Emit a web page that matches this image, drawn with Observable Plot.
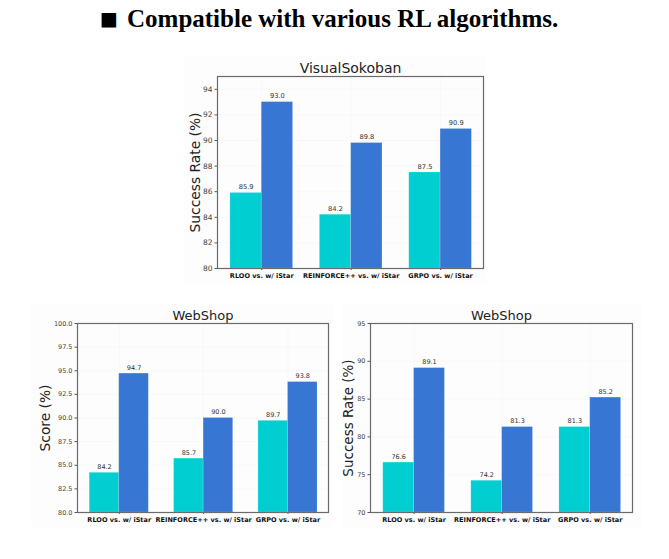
<!DOCTYPE html>
<html>
<head>
<meta charset="utf-8">
<script src="https://cdn.jsdelivr.net/npm/d3@7"></script>
<script src="https://cdn.jsdelivr.net/npm/@observablehq/plot@0.6"></script>
<style>
html,body{margin:0;padding:0;background:#fff;}
body{position:relative;width:669px;height:559px;overflow:hidden;}
#head{position:absolute;left:127px;top:5px;font:bold 25px "Liberation Serif",serif;color:#000;white-space:nowrap;}
#mark{position:absolute;left:100px;top:0;font:bold 19px "DejaVu Sans",sans-serif;color:#000;line-height:36px;}
.panel{position:absolute;}
.panel svg{display:block;background:#fdfdfd;}
</style>
</head>
<body>
<div id="mark">■</div>
<div id="head">Compatible with various RL algorithms.</div>
<div id="p1" class="panel" style="left:184px;top:55px"></div>
<div id="p2" class="panel" style="left:31px;top:303px"></div>
<div id="p3" class="panel" style="left:342px;top:303px"></div>
<script>
const labelsSokoban = ["RLOO vs. w/ iStar", "REINFORCE++ vs. w/ iStar", "GRPO vs. w/ iStar"];
const baseSokoban = [85.9, 84.2, 87.5];
const istarSokoban = [93.0, 89.8, 90.9];
const baseScore = [84.2, 85.7, 89.7];
const istarScore = [94.7, 90.0, 93.8];
const baseSuccess = [76.6, 74.2, 81.3];
const istarSuccess = [89.1, 81.3, 85.2];
const ticksSokoban = [80, 82, 84, 86, 88, 90, 92, 94];
const ticksScore = [80, 82.5, 85, 87.5, 90, 92.5, 95, 97.5, 100];
const ticksSuccess = [70, 75, 80, 85, 90, 95];
const tealColor = "#00ced1";
const blueColor = "#3776d3";

function chart(o) {
  const barWidth = 0.35;
  const rows = [];
  labelsSokoban.forEach((_, i) => {
    rows.push({x1: i - barWidth, x2: i, v: o.base[i], fill: tealColor});
    rows.push({x1: i, x2: i + barWidth, v: o.istar[i], fill: blueColor});
  });
  return Plot.plot({
    width: o.width, height: o.height,
    marginLeft: o.ml, marginRight: o.mr, marginTop: o.mt, marginBottom: o.mb,
    style: {fontFamily: "DejaVu Sans", background: "#fdfdfd", overflow: "visible"},
    x: {domain: [-0.495, 2.48]},
    y: {domain: o.domain},
    marks: [
      Plot.gridX([0, 1, 2], {stroke: "#000", strokeOpacity: 0.025}),
      Plot.gridY(o.ticks, {stroke: "#000", strokeOpacity: 0.025}),
      Plot.rectY(rows, {x1: "x1", x2: "x2", y1: o.domain[0], y2: "v", fill: "fill", stroke: "#fff", strokeOpacity: 0.2, strokeWidth: 0.8}),
      Plot.text(rows, {x: d => (d.x1 + d.x2) / 2, y: "v", text: d => d.v.toFixed(1), dy: -6, fontSize: o.valueSize, fill: "#333"}),
      Plot.axisX([0, 1, 2], {
        tickFormat: i => labelsSokoban[i], tickSize: 2, tickPadding: 3,
        fontSize: 6.55, fontWeight: "bold", fill: "#111", stroke: "#555", label: null
      }),
      Plot.axisY(o.ticks, {
        tickFormat: o.format, tickSize: 2.5, tickPadding: 2.5, fontSize: o.tickSize, fill: "#444", stroke: "#555", label: null
      }),
      Plot.text([o.ylabel], {frameAnchor: "left", textAnchor: "middle", dx: -o.labelOffset, rotate: -90, fontSize: o.labelSize, fill: "#222"}),
      Plot.frame({stroke: "#6a6a6a", strokeWidth: 1.2}),
      Plot.text([o.title], {frameAnchor: "top", dy: -4, fontSize: o.titleSize, fill: "#222", lineAnchor: "bottom"})
    ]
  });
}

document.getElementById("p1").append(chart({
  base: baseSokoban, istar: istarSokoban, domain: [80, 95], ticks: ticksSokoban,
  format: d3.format("d"), ylabel: "Success Rate (%)", title: "VisualSokoban", titleSize: 14,
  tickSize: 7.5, valueSize: 6.7, labelSize: 13.8,
  width: 302, height: 228, ml: 33, mr: 3, mt: 21, mb: 15, labelOffset: 22
}));
document.getElementById("p2").append(chart({
  base: baseScore, istar: istarScore, domain: [80, 100], ticks: ticksScore,
  format: d3.format(".1f"), ylabel: "Score (%)", title: "WebShop", titleSize: 13,
  tickSize: 6.5, valueSize: 6.5, labelSize: 13.8,
  width: 302, height: 224, ml: 46, mr: 5, mt: 20, mb: 15, labelOffset: 32
}));
document.getElementById("p3").append(chart({
  base: baseSuccess, istar: istarSuccess, domain: [70, 95], ticks: ticksSuccess,
  format: d3.format("d"), ylabel: "Success Rate (%)", title: "WebShop", titleSize: 13,
  tickSize: 6.5, valueSize: 6.5, labelSize: 13.5,
  width: 300, height: 224, ml: 28, mr: 10, mt: 20, mb: 15, labelOffset: 22
}));
</script>
</body>
</html>
